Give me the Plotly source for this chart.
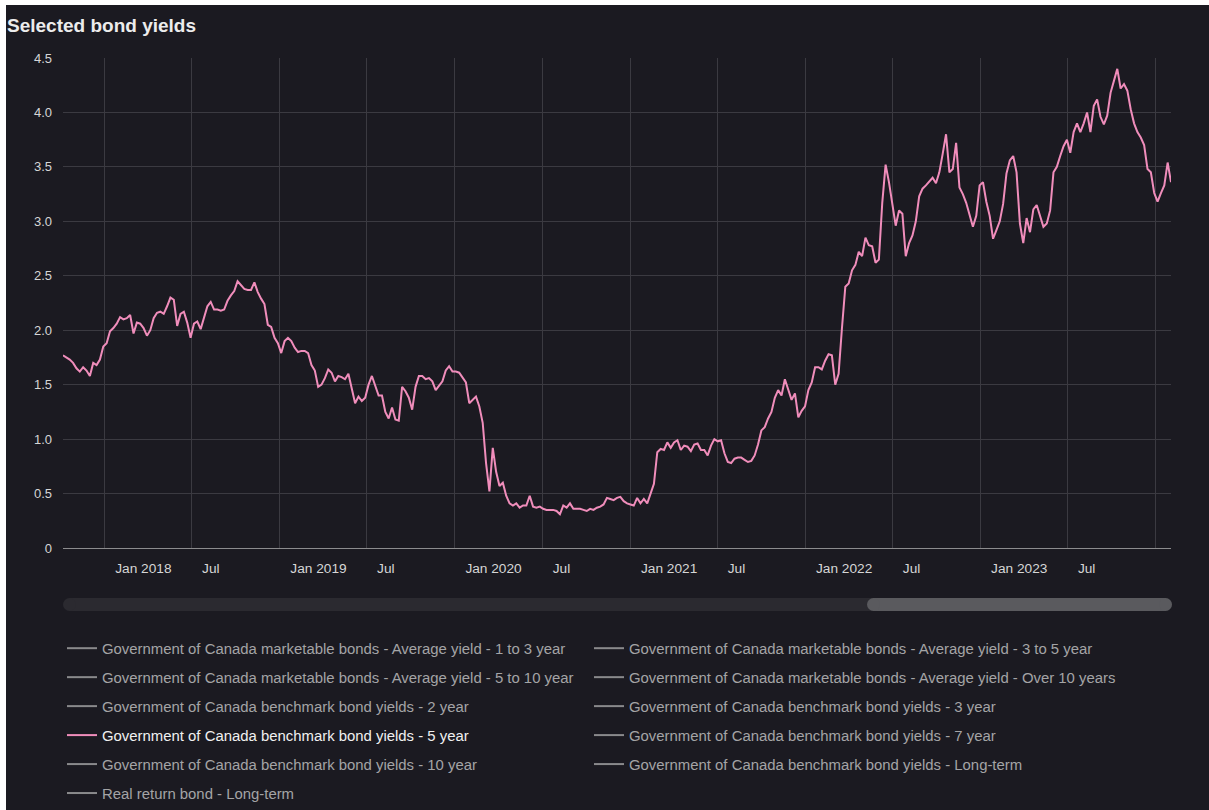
import pandas as pd
import plotly.graph_objects as go

# ---------------- data ----------------
START_DATE = "2017-10-06"   # weekly observations (Fridays)

yield_5y = [
    # Oct 2017 - Oct 2018
    1.77, 1.75, 1.73, 1.70, 1.65, 1.62, 1.66, 1.63, 1.58, 1.70,
    1.68, 1.73, 1.85, 1.88, 1.99, 2.02, 2.06, 2.12, 2.10, 2.11,
    2.14, 1.97, 2.07, 2.06, 2.02, 1.95, 2.00, 2.11, 2.16, 2.17,
    2.15, 2.22, 2.30, 2.28, 2.04, 2.15, 2.17, 2.07, 1.93, 2.06,
    2.08, 2.01, 2.12, 2.22, 2.26, 2.19, 2.19, 2.18, 2.19, 2.27,
    2.32, 2.36, 2.45, 2.41, 2.38, 2.37,
    # Nov 2018 - Nov 2019
    2.37, 2.44, 2.35, 2.29, 2.24, 2.05, 2.03, 1.93, 1.88, 1.79,
    1.90, 1.93, 1.90, 1.84, 1.80, 1.81, 1.81, 1.79, 1.68, 1.63,
    1.48, 1.50, 1.56, 1.64, 1.61, 1.53, 1.58, 1.57, 1.55, 1.60,
    1.45, 1.33, 1.39, 1.35, 1.38, 1.50, 1.58, 1.48, 1.40, 1.40,
    1.25, 1.19, 1.29, 1.18, 1.17, 1.48, 1.44, 1.38, 1.27, 1.48,
    1.58, 1.58, 1.55, 1.56,
    # Nov 2019 - Dec 2020
    1.53, 1.45, 1.49, 1.53, 1.63, 1.67, 1.62, 1.62, 1.61, 1.56,
    1.52, 1.33, 1.36, 1.39, 1.30, 1.15, 0.78, 0.52, 0.92, 0.70,
    0.57, 0.60, 0.48, 0.41, 0.39, 0.41, 0.37, 0.39, 0.39, 0.48,
    0.38, 0.37, 0.38, 0.36, 0.35, 0.35, 0.35, 0.34, 0.31, 0.39,
    0.37, 0.41, 0.36, 0.36, 0.36, 0.35, 0.34, 0.36, 0.35, 0.37,
    0.38, 0.40, 0.46, 0.45, 0.44, 0.46, 0.47,
    # Dec 2020 - Jan 2022
    0.43, 0.41, 0.40, 0.39, 0.46, 0.41, 0.45, 0.41, 0.50,
    0.59, 0.88, 0.91, 0.90, 0.97, 0.92, 0.97, 0.99, 0.90, 0.94,
    0.93, 0.89, 0.95, 0.96, 0.90, 0.90, 0.85, 0.94, 1.00, 0.98,
    0.99, 0.87, 0.79, 0.78, 0.82, 0.83, 0.83, 0.81, 0.79, 0.80,
    0.85, 0.95, 1.08, 1.11, 1.19, 1.25, 1.38, 1.45, 1.40, 1.55,
    1.45, 1.36, 1.42, 1.20, 1.26, 1.30,
    # Jan 2022 - Jan 2023
    1.45, 1.52, 1.66, 1.66, 1.64, 1.72, 1.78, 1.77, 1.50,
    1.60, 2.02, 2.40, 2.43, 2.55, 2.60, 2.72, 2.68, 2.85, 2.78,
    2.77, 2.62, 2.65, 3.17, 3.52, 3.36, 3.16, 2.96, 3.10, 3.07,
    2.68, 2.80, 2.87, 3.00, 3.23, 3.30, 3.33, 3.37, 3.40, 3.35,
    3.45, 3.62, 3.80, 3.45, 3.48, 3.72, 3.31, 3.25, 3.17, 3.06,
    2.95, 3.05, 3.33, 3.36, 3.18, 3.05,
    # Jan 2023 - Feb 2024
    2.84, 2.92, 3.00, 3.16, 3.44, 3.56, 3.60, 3.45, 2.98,
    2.80, 3.03, 2.90, 3.11, 3.15, 3.04, 2.95, 2.98, 3.10, 3.45,
    3.50, 3.60, 3.69, 3.75, 3.63, 3.82, 3.90, 3.82, 3.90, 4.00,
    3.82, 4.06, 4.12, 3.96, 3.89, 3.97, 4.18, 4.29, 4.40, 4.22,
    4.26, 4.20, 4.03, 3.90, 3.82, 3.77, 3.70, 3.48, 3.45, 3.26,
    3.18, 3.26, 3.33, 3.54, 3.36,
]
dates = pd.date_range(START_DATE, periods=len(yield_5y), freq="7D")

series_names = [
    "Government of Canada marketable bonds - Average yield - 1 to 3 year",
    "Government of Canada marketable bonds - Average yield - 3 to 5 year",
    "Government of Canada marketable bonds - Average yield - 5 to 10 year",
    "Government of Canada marketable bonds - Average yield - Over 10 years",
    "Government of Canada benchmark bond yields - 2 year",
    "Government of Canada benchmark bond yields - 3 year",
    "Government of Canada benchmark bond yields - 5 year",
    "Government of Canada benchmark bond yields - 7 year",
    "Government of Canada benchmark bond yields - 10 year",
    "Government of Canada benchmark bond yields - Long-term",
    "Real return bond - Long-term",
]
active_series = "Government of Canada benchmark bond yields - 5 year"

x_tick_dates = ["2018-01-01", "2018-07-01", "2019-01-01", "2019-07-01",
                "2020-01-01", "2020-07-01", "2021-01-01", "2021-07-01",
                "2022-01-01", "2022-07-01", "2023-01-01", "2023-07-01",
                "2024-01-01"]
x_tick_text = ["Jan 2018", "Jul", "Jan 2019", "Jul", "Jan 2020", "Jul",
               "Jan 2021", "Jul", "Jan 2022", "Jul", "Jan 2023", "Jul", ""]
y_tick_vals = [0, 0.5, 1.0, 1.5, 2.0, 2.5, 3.0, 3.5, 4.0, 4.5]
y_tick_text = ["0", "0.5", "1.0", "1.5", "2.0", "2.5", "3.0", "3.5", "4.0", "4.5"]

# ---------------- style / layout ----------------
W, H = 1209, 810
ML, MR, MT, MB = 63, 38, 58, 262
PW, PH = W - ML - MR, H - MT - MB
BG = "#1b1a21"
GRID = "#3b3a41"
PINK = "#f08dbb"
GREY_LINE = "#8a8a8c"
GREY_TEXT = "#a4a4a6"
FONT = "Liberation Sans, Arial, Helvetica, sans-serif"


def px_x(px):
    return (px - ML) / PW


def px_y(py):
    return (H - MB - py) / PH


fig = go.Figure()

for i, name in enumerate(series_names):
    col = "legend" if i % 2 == 0 else "legend2"
    if name == active_series:
        fig.add_trace(go.Scatter(
            x=dates, y=yield_5y, mode="lines", name=name,
            line=dict(color=PINK, width=2),
            legend=col, legendgroup=f"g{i}",
            hovertemplate="%{x|%b %d, %Y}: %{y:.2f}<extra></extra>",
        ))
    else:
        # series switched off in the original chart: legend entry only
        fig.add_trace(go.Scatter(
            x=[dates[0]], y=[None], mode="lines",
            name=f"<span style='color:{GREY_TEXT}'>{name}</span>",
            line=dict(color=GREY_LINE, width=2),
            legend=col, legendgroup=f"g{i}", hoverinfo="skip",
        ))

shapes = []
# white frame strips (screenshot edge)
shapes.append(dict(type="rect", xref="paper", yref="paper",
                   x0=px_x(0), x1=px_x(6), y0=px_y(H), y1=px_y(0),
                   fillcolor="white", line_width=0, layer="above"))
shapes.append(dict(type="rect", xref="paper", yref="paper",
                   x0=px_x(0), x1=px_x(W), y0=px_y(5), y1=px_y(0),
                   fillcolor="white", line_width=0, layer="above"))


def rounded_bar(x0, x1, yc, h, color):
    r = h / 2
    out = [dict(type="rect", xref="paper", yref="paper",
                x0=px_x(x0 + r), x1=px_x(x1 - r),
                y0=px_y(yc + r), y1=px_y(yc - r),
                fillcolor=color, line_width=0, layer="above")]
    for cx in (x0 + r, x1 - r):
        out.append(dict(type="circle", xref="paper", yref="paper",
                        xsizemode="pixel", ysizemode="pixel",
                        xanchor=px_x(cx), yanchor=px_y(yc),
                        x0=-r, x1=r, y0=-r, y1=r,
                        fillcolor=color, line_width=0, layer="above"))
    return out


shapes += rounded_bar(63, 1172, 604.5, 13, "#2b2a30")
shapes += rounded_bar(867, 1172, 604.5, 13, "#5a5a5e")

legend_common = dict(
    orientation="v", xanchor="left", yanchor="top",
    bgcolor="rgba(0,0,0,0)", borderwidth=0,
    font=dict(family=FONT, size=14.9, color="#f0f0f0"),
    itemwidth=30, tracegroupgap=6.6, traceorder="grouped",
    itemclick=False, itemdoubleclick=False,
)

fig.update_layout(
    width=W, height=H,
    margin=dict(l=ML, r=MR, t=MT, b=MB, autoexpand=False),
    paper_bgcolor=BG, plot_bgcolor=BG,
    font=dict(family=FONT, color="#d6d6d6"),
    title=dict(text="<b>Selected bond yields</b>", xref="container",
               yref="container", x=7 / W, xanchor="left",
               y=1 - 25.5 / H, yanchor="middle",
               font=dict(family=FONT, size=19, color="#ececec")),
    xaxis=dict(
        type="date", range=[dates[0], dates[-1]],
        tickvals=x_tick_dates, ticktext=x_tick_text,
        showgrid=True, gridcolor=GRID, gridwidth=1,
        showline=True, linecolor="#8c8c8e", linewidth=1,
        zeroline=False, ticks="",
        ticklabelposition="outside right", ticklabelshift=10,
        ticklabelstandoff=8,
        tickfont=dict(family=FONT, size=13.7, color="#d6d6d6"),
        fixedrange=True,
    ),
    yaxis=dict(
        range=[0, 4.5], tickvals=y_tick_vals, ticktext=y_tick_text,
        showgrid=True, gridcolor=GRID, gridwidth=1,
        zeroline=False, showline=False, ticks="",
        ticklabelstandoff=10,
        tickfont=dict(family=FONT, size=13, color="#d6d6d6"),
        fixedrange=True,
    ),
    legend=dict(x=px_x(62), y=px_y(632), **legend_common),
    legend2=dict(x=px_x(589), y=px_y(632), **legend_common),
    shapes=shapes,
    showlegend=True,
    hovermode="closest",
)

fig.write_html("out.html", config={"displayModeBar": False})
